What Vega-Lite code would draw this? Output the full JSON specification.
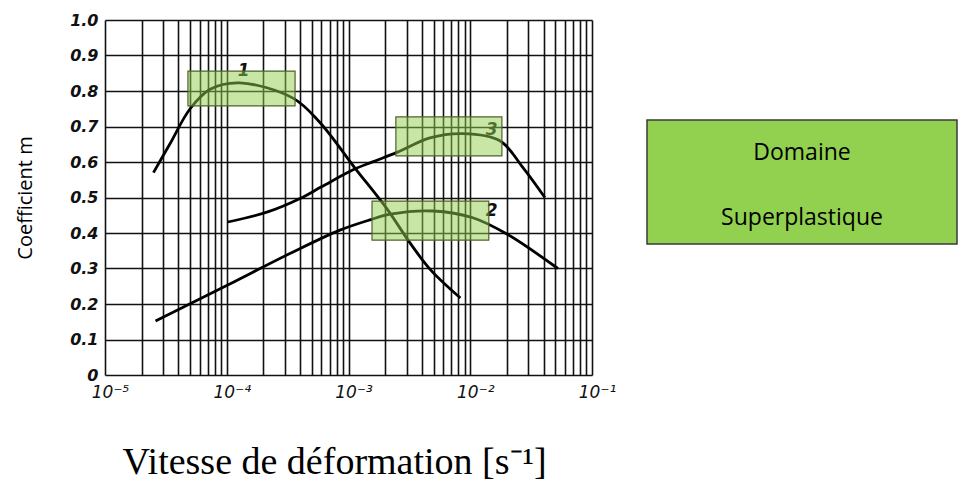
{
  "$schema": "https://vega.github.io/schema/vega-lite/v6.json",
  "padding": {"left": 15, "top": 12, "right": 0, "bottom": 0},
  "background": "white",
  "bounds": "flush",
  "spacing": 55,
  "config": {"view": {"stroke": null}},
  "datasets": {
    "curves": [
      {"s": "1", "x": 0.000025, "m": 0.57},
      {"s": "1", "x": 0.000034, "m": 0.65},
      {"s": "1", "x": 0.00005, "m": 0.75},
      {"s": "1", "x": 0.000073, "m": 0.805},
      {"s": "1", "x": 0.000128, "m": 0.823},
      {"s": "1", "x": 0.00035, "m": 0.78},
      {"s": "1", "x": 0.00058, "m": 0.712},
      {"s": "1", "x": 0.00113, "m": 0.583},
      {"s": "1", "x": 0.00207, "m": 0.468},
      {"s": "1", "x": 0.0032, "m": 0.372},
      {"s": "1", "x": 0.0047, "m": 0.297},
      {"s": "1", "x": 0.0083, "m": 0.217},
      {"s": "3", "x": 0.000102, "m": 0.431},
      {"s": "3", "x": 0.00022, "m": 0.46},
      {"s": "3", "x": 0.0004, "m": 0.497},
      {"s": "3", "x": 0.0006, "m": 0.53},
      {"s": "3", "x": 0.00109, "m": 0.578},
      {"s": "3", "x": 0.0016, "m": 0.601},
      {"s": "3", "x": 0.0025, "m": 0.627},
      {"s": "3", "x": 0.00467, "m": 0.668},
      {"s": "3", "x": 0.0087, "m": 0.68},
      {"s": "3", "x": 0.0175, "m": 0.66},
      {"s": "3", "x": 0.027, "m": 0.585},
      {"s": "3", "x": 0.041, "m": 0.5},
      {"s": "2", "x": 0.000026, "m": 0.152},
      {"s": "2", "x": 0.0001, "m": 0.252},
      {"s": "2", "x": 0.00033, "m": 0.342},
      {"s": "2", "x": 0.00085, "m": 0.408},
      {"s": "2", "x": 0.0015, "m": 0.437},
      {"s": "2", "x": 0.0022, "m": 0.453},
      {"s": "2", "x": 0.00495, "m": 0.462},
      {"s": "2", "x": 0.0105, "m": 0.443},
      {"s": "2", "x": 0.02, "m": 0.397},
      {"s": "2", "x": 0.0525, "m": 0.3}
    ],
    "labels": [
      {"t": "1", "x": 0.000138, "m": 0.855},
      {"t": "3", "x": 0.015, "m": 0.69},
      {"t": "2", "x": 0.015, "m": 0.462}
    ],
    "boxes": [
      {"x1": 0.000048, "x2": 0.000364, "m1": 0.758, "m2": 0.856},
      {"x1": 0.00245, "x2": 0.0182, "m1": 0.617, "m2": 0.727},
      {"x1": 0.00156, "x2": 0.0142, "m1": 0.38, "m2": 0.49}
    ],
    "legend": [
      {"x1": 0, "x2": 1, "m1": 0.369, "m2": 0.718}
    ],
    "legendText": [
      {"t": "Domaine", "x": 0.5, "m": 0.625},
      {"t": "Superplastique", "x": 0.5, "m": 0.442}
    ]
  },
  "hconcat": [
    {
      "width": 487,
      "height": 355,
      "encoding": {
        "x": {
          "field": "x",
          "type": "quantitative",
          "scale": {"type": "log", "domain": [0.00001, 0.1], "nice": false},
          "axis": {
            "values": [0.00001, 0.00002, 0.00003, 0.00004, 0.00005, 0.00006, 0.00007, 0.00008, 0.00009,
                       0.0001, 0.0002, 0.0003, 0.0004, 0.0005, 0.0006, 0.0007, 0.0008, 0.0009,
                       0.001, 0.002, 0.003, 0.004, 0.005, 0.006, 0.007, 0.008, 0.009,
                       0.01, 0.02, 0.03, 0.04, 0.05, 0.06, 0.07, 0.08, 0.09, 0.1],
            "labelExpr": "datum.value == 0.00001 ? '10⁻⁵' : datum.value == 0.0001 ? '10⁻⁴' : datum.value == 0.001 ? '10⁻³' : datum.value == 0.01 ? '10⁻²' : datum.value == 0.1 ? '10⁻¹' : ''",
            "grid": true,
            "gridColor": "#111111",
            "gridWidth": 1.6,
            "gridOpacity": 1,
            "ticks": false,
            "domain": false,
            "labelOverlap": false,
            "labelFlush": false,
            "labelBound": false,
            "labelPadding": 9,
            "labelOffset": 5,
            "labelFont": "DejaVu Sans",
            "labelFontStyle": "italic",
            "labelFontSize": 17,
            "labelColor": "#111111",
            "title": "Vitesse de déformation [s⁻¹]",
            "titleFont": "Liberation Serif",
            "titleFontSize": 38,
            "titleFontWeight": "normal",
            "titleColor": "#000000",
            "titlePadding": 43,
            "titleX": 229
          }
        },
        "y": {
          "field": "m",
          "type": "quantitative",
          "scale": {"domain": [0, 1], "nice": false, "zero": false},
          "axis": {
            "values": [0, 0.1, 0.2, 0.3, 0.4, 0.5, 0.6, 0.7, 0.8, 0.9, 1.0],
            "labelExpr": "datum.value == 0 ? '0' : format(datum.value, '.1f')",
            "grid": true,
            "gridColor": "#111111",
            "gridWidth": 1.6,
            "gridOpacity": 1,
            "ticks": false,
            "domain": false,
            "labelPadding": 7,
            "labelFont": "DejaVu Sans",
            "labelFontStyle": "italic",
            "labelFontWeight": "bold",
            "labelFontSize": 16,
            "labelColor": "#111111",
            "title": "Coefficient m",
            "titleFont": "Open Sans",
            "titleFontSize": 20,
            "titleFontWeight": "normal",
            "titleColor": "#000000",
            "titlePadding": 34
          }
        }
      },
      "layer": [
        {
          "data": {"name": "curves"},
          "mark": {"type": "line", "interpolate": "catmull-rom", "color": "#000000", "strokeWidth": 2.8},
          "encoding": {"detail": {"field": "s", "type": "nominal"}}
        },
        {
          "data": {"name": "labels"},
          "mark": {"type": "text", "font": "DejaVu Sans", "fontStyle": "italic", "fontWeight": "bold", "fontSize": 17, "color": "#111111", "align": "center", "baseline": "middle"},
          "encoding": {"text": {"field": "t", "type": "nominal"}}
        },
        {
          "data": {"name": "boxes"},
          "mark": {"type": "rect", "fill": "#92d050", "fillOpacity": 0.5, "stroke": "#4f6228", "strokeWidth": 1.2},
          "encoding": {
            "x": {"field": "x1", "type": "quantitative"},
            "x2": {"field": "x2"},
            "y": {"field": "m1", "type": "quantitative"},
            "y2": {"field": "m2"}
          }
        }
      ]
    },
    {
      "width": 310,
      "height": 355,
      "layer": [
        {
          "data": {"name": "legend"},
          "mark": {"type": "rect", "fill": "#92d050", "stroke": "#3a3a3a", "strokeWidth": 1.5},
          "encoding": {
            "x": {"field": "x1", "type": "quantitative", "scale": {"domain": [0, 1], "nice": false}, "axis": null},
            "x2": {"field": "x2"},
            "y": {"field": "m1", "type": "quantitative", "scale": {"domain": [0, 1], "nice": false}, "axis": null},
            "y2": {"field": "m2"}
          }
        },
        {
          "data": {"name": "legendText"},
          "mark": {"type": "text", "font": "Open Sans", "fontSize": 23, "color": "#000000", "align": "center", "baseline": "middle"},
          "encoding": {
            "x": {"field": "x", "type": "quantitative", "scale": {"domain": [0, 1], "nice": false}, "axis": null},
            "y": {"field": "m", "type": "quantitative", "scale": {"domain": [0, 1], "nice": false}, "axis": null},
            "text": {"field": "t", "type": "nominal"}
          }
        }
      ]
    }
  ]
}
